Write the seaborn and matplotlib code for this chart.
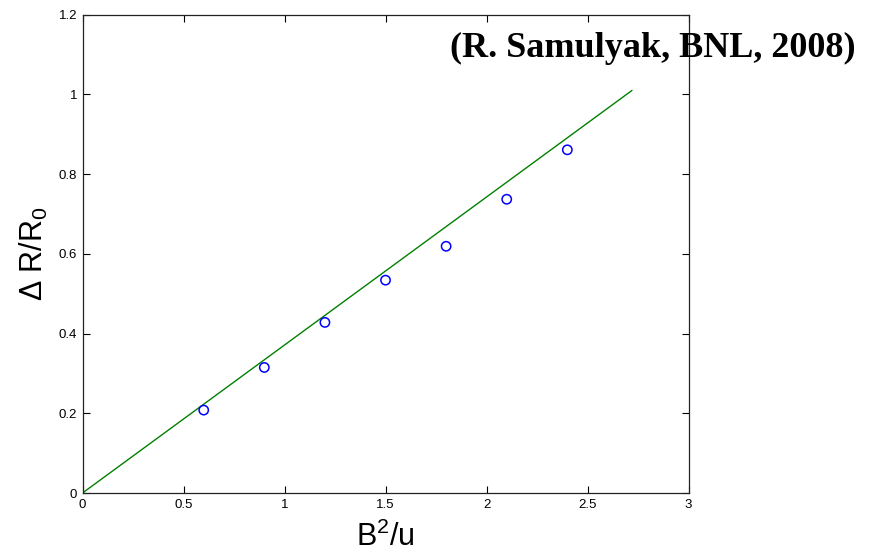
import matplotlib
matplotlib.use("Agg")
import matplotlib.pyplot as plt
import seaborn as sns
import pandas as pd

# data
b2u = [0.6, 0.9, 1.2, 1.5, 1.8, 2.1, 2.4]
dR = [0.208, 0.315, 0.428, 0.534, 0.619, 0.737, 0.861]
fit_x = [0.0, 2.72]
fit_y = [0.0, 1.01]
xticks = [0, 0.5, 1, 1.5, 2, 2.5, 3]
xticklabels = ["0", "0.5", "1", "1.5", "2", "2.5", "3"]
yticks = [0, 0.2, 0.4, 0.6, 0.8, 1, 1.2]
yticklabels = ["0", "0.2", "0.4", "0.6", "0.8", "1", "1.2"]

sns.set_style("ticks")
plt.rcParams['font.family'] = ['Liberation Sans', 'DejaVu Sans']
plt.rcParams['mathtext.fontset'] = 'custom'
plt.rcParams['mathtext.rm'] = 'Liberation Sans'

fig = plt.figure(figsize=(8.75, 5.55), dpi=100)
ax = fig.add_axes([0.0943, 0.1117, 0.6926, 0.8618])

pts = pd.DataFrame({"x": b2u, "y": dR})
fit = pd.DataFrame({"x": fit_x, "y": fit_y})
sns.lineplot(data=fit, x="x", y="y", ax=ax, color=(0.0, 0.5, 0.0), linewidth=1.0)
sns.scatterplot(data=pts, x="x", y="y", ax=ax, marker="o", s=45,
                facecolor="none", edgecolor="blue", linewidth=1.1, zorder=3)

ax.set_xlim(0, 3)
ax.set_ylim(0, 1.2)
ax.set_xticks(xticks)
ax.set_xticklabels(xticklabels)
ax.set_yticks(yticks)
ax.set_yticklabels(yticklabels)
ax.tick_params(direction="in", top=True, right=True, length=5, width=0.8,
               labelsize=9.5, colors="black", pad=4)
for s in ax.spines.values():
    s.set_linewidth(0.9)
    s.set_color("#222222")

ax.set_xlabel("B$^2$/u", fontsize=22, labelpad=8, color="black")
ax.set_ylabel("Δ R/R$_0$", fontsize=22, labelpad=6, color="black")

fig.text(0.978, 0.913, "(R. Samulyak, BNL, 2008)", ha="right", va="center",
         fontsize=26, fontweight="bold", family=["Liberation Serif"], color="black")

fig.savefig("out.png", dpi=100)
